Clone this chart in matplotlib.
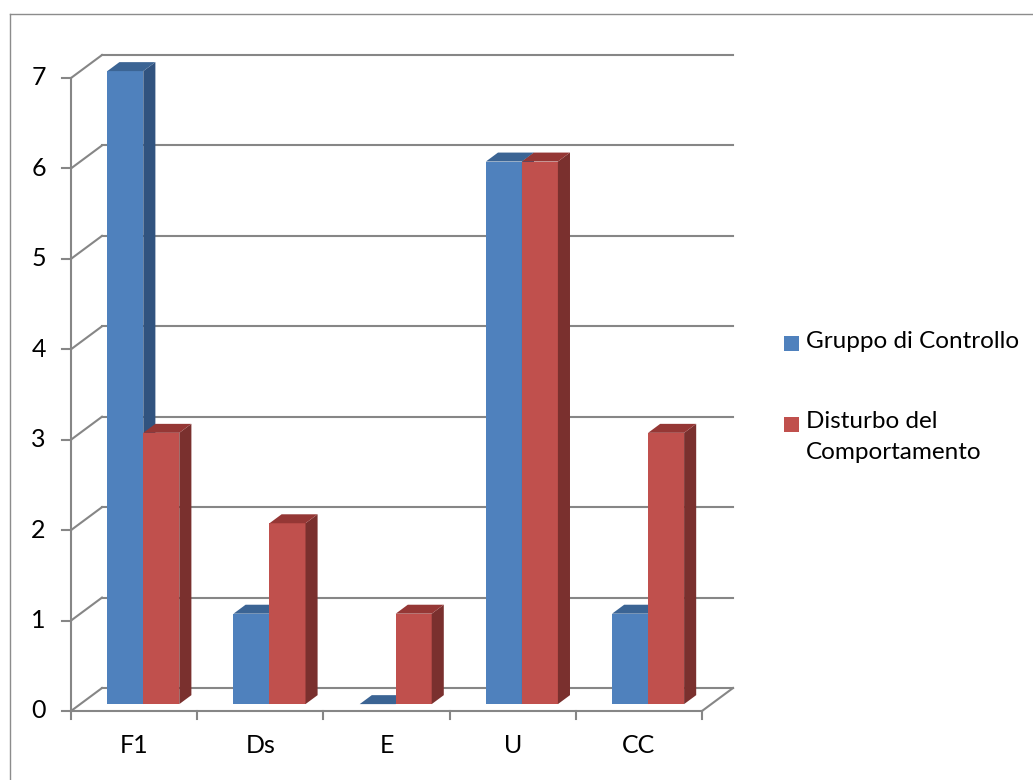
import matplotlib
matplotlib.use("Agg")
import matplotlib.pyplot as plt
from matplotlib.patches import Polygon, Rectangle
from matplotlib.lines import Line2D

# ---- data -------------------------------------------------------------
categories = ["F1", "Ds", "E", "U", "CC"]
series_names = ["Gruppo di Controllo", "Disturbo del\nComportamento"]
gruppo_controllo = [7, 1, 0, 6, 1]
disturbo_comportamento = [3, 2, 1, 6, 3]
y_ticks = [0, 1, 2, 3, 4, 5, 6, 7]

# ---- styling ----------------------------------------------------------
W, H, DPI = 1033, 780, 100
FONT = ["Lato", "DejaVu Sans"]
FS = 18
GRID = "#868686"
face_cols = [("#4F81BD", "#3B6494", "#31537F"),   # front, top, side
             ("#C0504D", "#953735", "#7A302E")]

# projection of the 3D box onto the page
DX = 0.2456      # full wall depth, in category units
DV = 0.254       # full wall depth, in value units
GAP = 0.2139     # half gap on each side of a category
BW = 0.2853      # bar width
Z0, Z1 = 0.30, 0.69   # front / back depth of the bars

fig = plt.figure(figsize=(W / DPI, H / DPI), dpi=DPI)
ax = fig.add_axes([0, 0, 1, 1])
ax.set_xlim(-71 / 126.2, (W - 71) / 126.2)
ax.set_ylim(-(H - 711) / 90.43, 711 / 90.43)
ax.axis("off")


def P(x, v, z):
    return (x + z * DX, v + z * DV)


lw = 1.5
n = len(categories)
ymax = max(y_ticks)

# back wall gridlines + left wall diagonals + front ticks
for t in y_ticks:
    ax.add_line(Line2D([P(0, t, 1)[0], P(n, t, 1)[0]], [P(0, t, 1)[1]] * 2,
                       color=GRID, lw=lw, zorder=1))
    ax.add_line(Line2D([P(0, t, 0)[0], P(0, t, 1)[0]],
                       [P(0, t, 0)[1], P(0, t, 1)[1]], color=GRID, lw=lw, zorder=1))
    ax.add_line(Line2D([-0.071, 0], [t, t], color=GRID, lw=lw, zorder=1))
    ax.text(-0.2575, t, str(t), ha="center", va="center", fontsize=FS,
            family=FONT, color="black")

# left front edge of the wall
ax.add_line(Line2D([0, 0], [0, ymax], color=GRID, lw=lw, zorder=1))
# floor: front axis, right diagonal
ax.add_line(Line2D([0, n], [0, 0], color=GRID, lw=lw, zorder=1))
ax.add_line(Line2D([P(n, 0, 0)[0], P(n, 0, 1)[0]],
                   [P(n, 0, 0)[1], P(n, 0, 1)[1]], color=GRID, lw=lw, zorder=1))
for i in range(n + 1):
    ax.add_line(Line2D([i, i], [0, -0.09], color=GRID, lw=lw, zorder=1))
for i, c in enumerate(categories):
    ax.text(i + 0.5, -0.387, c, ha="center", va="center", fontsize=FS,
            family=FONT, color="black")

# bars
z = 2
for i in range(n):
    for s, vals in enumerate([gruppo_controllo, disturbo_comportamento]):
        v = vals[i]
        x0 = i + GAP + s * BW
        x1 = x0 + BW
        front, top, side = face_cols[s]
        if v > 0:
            ax.add_patch(Polygon([P(x0, 0, Z0), P(x1, 0, Z0), P(x1, v, Z0), P(x0, v, Z0)],
                                 closed=True, fc=front, ec="none", zorder=z))
            ax.add_patch(Polygon([P(x1, 0, Z0), P(x1, 0, Z1), P(x1, v, Z1), P(x1, v, Z0)],
                                 closed=True, fc=side, ec="none", zorder=z))
        ax.add_patch(Polygon([P(x0, v, Z0), P(x1, v, Z0), P(x1, v, Z1), P(x0, v, Z1)],
                             closed=True, fc=top, ec="none", zorder=z))
        z += 1

# legend
def fx(px):
    return px / W


def fy(py):
    return 1 - py / H


for s, name in enumerate(series_names):
    cy = [343.5, 424.5][s]
    fig.add_artist(Rectangle((fx(784), fy(cy + 7.5)), 15 / W, 15 / H,
                             transform=fig.transFigure, fc=face_cols[s][0], ec="none"))
    fig.text(fx(806), fy(cy - 13), name, ha="left", va="top", fontsize=17.5,
             family=FONT, color="black", linespacing=1.55)

# chart border (top and left edges)
fig.add_artist(Line2D([fx(9.5), fx(9.5)], [fy(13.5), 0], transform=fig.transFigure,
                      color="#8C8C8C", lw=1.0))
fig.add_artist(Line2D([fx(9.5), 1], [fy(13.5), fy(13.5)], transform=fig.transFigure,
                      color="#8C8C8C", lw=1.0))

fig.savefig("out.png", dpi=DPI, facecolor="white")
